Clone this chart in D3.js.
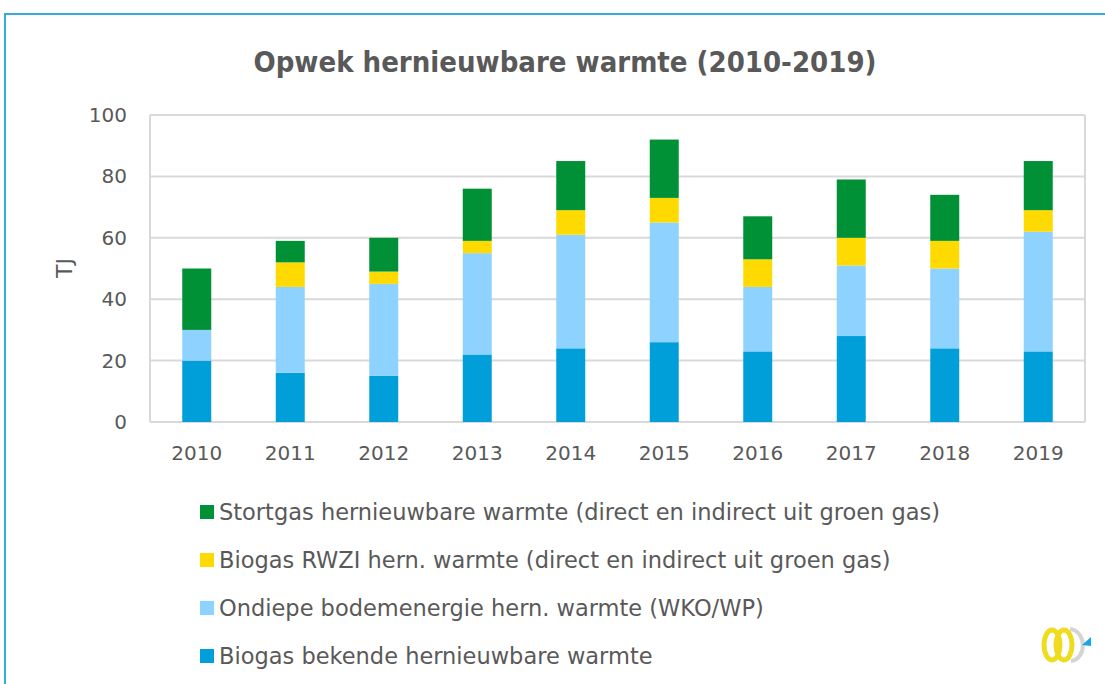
<!DOCTYPE html>
<html>
<head>
<meta charset="utf-8">
<script src="https://cdn.jsdelivr.net/npm/d3@7"></script>
<style>
  body { margin: 0; background: #fff; }
  svg { display: block; font-family: "DejaVu Sans", sans-serif; }
</style>
</head>
<body>
<svg id="chart" width="1105" height="684"></svg>
<script>
const years = ["2010","2011","2012","2013","2014","2015","2016","2017","2018","2019"];
const biogasBekend = [20, 16, 15, 22, 24, 26, 23, 28, 24, 23];
const bodemenergie = [10, 28, 30, 33, 37, 39, 21, 23, 26, 39];
const biogasRwzi   = [0, 8, 4, 4, 8, 8, 9, 9, 9, 7];
const stortgas     = [20, 7, 11, 17, 16, 19, 14, 19, 15, 16];
const yTicks = [0, 20, 40, 60, 80, 100];

const series = [
  { key: "biogasBekend", name: "Biogas bekende hernieuwbare warmte", values: biogasBekend, color: "#009fd9" },
  { key: "bodemenergie", name: "Ondiepe bodemenergie hern. warmte (WKO/WP)", values: bodemenergie, color: "#8ed3ff" },
  { key: "biogasRwzi", name: "Biogas RWZI hern. warmte (direct en indirect uit groen gas)", values: biogasRwzi, color: "#ffda00" },
  { key: "stortgas", name: "Stortgas hernieuwbare warmte (direct en indirect uit groen gas)", values: stortgas, color: "#009035" }
];

const svg = d3.select('#chart');
const textColor = "#595959";
const gridColor = "#d9d9d9";

// outer frame
svg.append('path')
  .attr('d', 'M5,700 L5,14 L1120,14')
  .attr('fill', 'none')
  .attr('stroke', '#38acd8')
  .attr('stroke-width', 2);

const plot = { left: 150, right: 1085, top: 115, bottom: 422 };

const rows = years.map((y, i) => {
  const r = { year: y };
  series.forEach(s => r[s.key] = s.values[i]);
  return r;
});
const stacked = d3.stack().keys(series.map(s => s.key))(rows);

const x = d3.scaleBand()
  .domain(years)
  .range([plot.left, plot.right])
  .paddingInner(0.69)
  .paddingOuter(0.345);

const y = d3.scaleLinear()
  .domain([0, 100])
  .range([plot.bottom, plot.top]);

// title
svg.append('text')
  .attr('x', 565)
  .attr('y', 72)
  .attr('text-anchor', 'middle')
  .attr('font-size', 29)
  .attr('font-weight', 'bold')
  .attr('font-family', '"DejaVu Sans Condensed", "DejaVu Sans", sans-serif')
  .attr('fill', textColor)
  .text('Opwek hernieuwbare warmte (2010-2019)');

// grid
svg.append('g')
  .selectAll('line')
  .data(yTicks)
  .join('line')
  .attr('x1', plot.left)
  .attr('x2', plot.right)
  .attr('y1', d => y(d))
  .attr('y2', d => y(d))
  .attr('stroke', gridColor)
  .attr('stroke-width', 2);

svg.append('line')
  .attr('x1', plot.left).attr('x2', plot.left)
  .attr('y1', plot.top).attr('y2', plot.bottom)
  .attr('stroke', gridColor).attr('stroke-width', 2);
svg.append('line')
  .attr('x1', plot.right).attr('x2', plot.right)
  .attr('y1', plot.top).attr('y2', plot.bottom)
  .attr('stroke', gridColor).attr('stroke-width', 2);

// bars
svg.append('g')
  .selectAll('g')
  .data(stacked)
  .join('g')
  .attr('fill', (d, i) => series[i].color)
  .selectAll('rect')
  .data(d => d)
  .join('rect')
  .attr('x', d => x(d.data.year))
  .attr('width', x.bandwidth())
  .attr('y', d => y(d[1]))
  .attr('height', d => y(d[0]) - y(d[1]));

// y axis
const yAxis = d3.axisLeft(y).tickValues(yTicks).tickSize(0).tickPadding(0);
const gy = svg.append('g')
  .attr('transform', `translate(${plot.left - 23},0)`)
  .call(yAxis);
gy.select('.domain').remove();
gy.selectAll('text')
  .attr('font-size', 20)
  .attr('fill', textColor)
  .attr('font-family', '"DejaVu Sans", sans-serif');

// x axis
const xAxis = d3.axisBottom(x).tickSize(0).tickPadding(0);
const gx = svg.append('g')
  .attr('transform', `translate(0,${plot.bottom + 24})`)
  .call(xAxis);
gx.select('.domain').remove();
gx.selectAll('text')
  .attr('font-size', 20)
  .attr('fill', textColor)
  .attr('font-family', '"DejaVu Sans", sans-serif');

// y title
svg.append('text')
  .attr('transform', 'translate(72,268) rotate(-90)')
  .attr('text-anchor', 'middle')
  .attr('font-size', 22)
  .attr('fill', textColor)
  .text('TJ');

// legend
const legendItems = series.slice().reverse();
const lg = svg.append('g')
  .selectAll('g')
  .data(legendItems)
  .join('g')
  .attr('transform', (d, i) => `translate(200,${512 + i * 48})`);
lg.append('rect')
  .attr('x', 0).attr('y', -7)
  .attr('width', 14).attr('height', 14)
  .attr('fill', d => d.color);
lg.append('text')
  .attr('x', 19)
  .attr('y', 8)
  .attr('font-size', 22.5)
  .attr('fill', textColor)
  .text(d => d.name);

// logo
const logo = svg.append('g').attr('transform', 'translate(1065,645)');
logo.append('ellipse').attr('cx', -13).attr('cy', 0).attr('rx', 8).attr('ry', 15)
  .attr('fill', 'none').attr('stroke', '#f0dc1e').attr('stroke-width', 5);
logo.append('ellipse').attr('cx', -1).attr('cy', 0).attr('rx', 8).attr('ry', 15)
  .attr('fill', 'none').attr('stroke', '#f0dc1e').attr('stroke-width', 5);
logo.append('path').attr('d', 'M5,-16 C22,-14 22,14 6,16')
  .attr('fill', 'none').attr('stroke', '#d4d4d4').attr('stroke-width', 4);
logo.append('path').attr('d', 'M17,0 L26,-8 L26,1 Z').attr('fill', '#1aa3e8');
</script>
</body>
</html>
